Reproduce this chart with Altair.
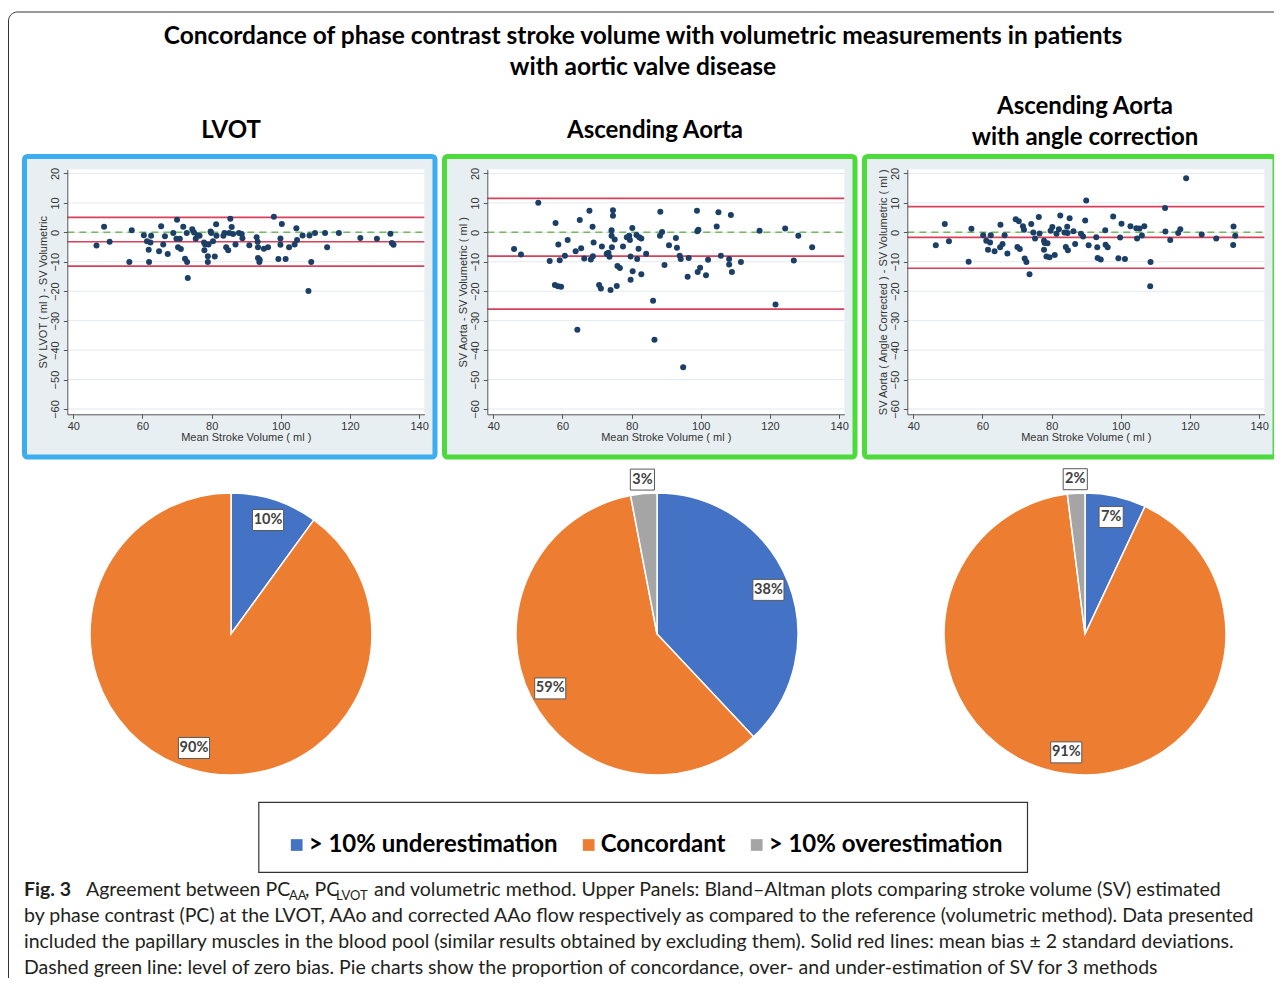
import altair as alt
import numpy as np
import pandas as pd

# ---------------- data ----------------
LVOT_MEAN = [46.7, 48.9, 50.5, 56.2, 56.9, 60.4, 61.3, 61.8, 61.9, 62.3,
             62.5, 64.8, 65.4, 66.0, 66.5, 67.3, 68.9, 70.0, 69.8, 70.3,
             70.8, 71.1, 71.8, 72.3, 72.8, 72.9, 73.1, 74.4, 74.9, 75.4,
             76.0, 76.5, 77.8, 77.9, 78.1, 78.9, 78.9, 79.1, 79.7, 79.9,
             80.4, 80.9, 81.3, 81.4, 83.4, 83.7, 84.2, 84.8, 85.1, 85.4,
             85.8, 86.2, 86.9, 87.9, 88.7, 88.9, 90.9, 93.0, 93.3, 93.4,
             93.4, 93.8, 93.9, 95.1, 96.3, 98.0, 99.3, 99.9, 99.9, 100.3,
             101.4, 102.4, 104.0, 104.5, 104.7, 106.3, 108.0, 108.3, 108.8, 109.9,
             112.8, 113.4, 116.8, 123.0, 127.8, 131.7, 132.1, 132.6]
LVOT_DIFF = [-4.5, 1.9, -3.2, -10.1, 0.7, -1.0, -3.0, -5.9, -10.1, -3.5,
             -1.2, -6.4, 2.1, -4.1, -1.3, -7.4, -0.2, 4.3, -2.2, -5.1,
             -2.2, -5.7, 1.9, -9.0, -0.2, -10.1, -15.5, 1.0, -0.1, -2.2,
             -1.0, -1.2, -3.5, -6.1, -4.1, -8.1, -10.1, -4.1, 0.3, -0.2,
             -3.0, -8.2, 2.7, -1.2, -1.2, -0.2, -5.1, -6.1, -0.2, 4.6,
             1.8, -0.6, -4.1, -0.2, -0.6, -2.0, -4.4, -1.7, -3.2, -5.1,
             -8.7, -10.1, -9.3, -5.6, -5.1, 5.3, -9.1, -2.1, -4.2, 2.8,
             -9.1, -5.1, -4.1, 1.4, -2.6, -1.1, -19.9, -1.1, -10.1, -0.2,
             -0.2, -5.1, -0.2, -1.9, -2.2, -0.5, -3.6, -4.2]
LVOT_LINES = [5.1, -3.2, -11.5]

AAO_MEAN = [46.0, 48.0, 53.0, 56.3, 58.0, 57.8, 58.8, 58.7, 59.2, 59.6,
            60.7, 61.5, 63.8, 64.3, 65.0, 65.4, 66.3, 67.8, 68.2, 68.7,
            68.8, 69.0, 70.6, 71.1, 71.4, 72.8, 73.3, 73.6, 73.9, 74.2,
            74.2, 74.3, 74.6, 74.6, 75.1, 75.7, 75.9, 76.6, 77.5, 78.6,
            79.3, 79.5, 79.7, 79.7, 80.2, 80.3, 81.4, 81.6, 82.0, 82.2,
            82.8, 82.8, 84.2, 86.2, 86.6, 88.2, 88.3, 88.8, 89.5, 90.8,
            92.8, 93.1, 93.9, 94.2, 94.9, 96.2, 96.5, 98.9, 99.0, 99.3,
            99.1, 99.8, 101.5, 102.1, 104.6, 105.1, 105.8, 108.2, 108.2, 108.7,
            109.0, 111.6, 117.0, 121.6, 124.4, 126.9, 128.2, 132.2]
AAO_DIFF = [-5.7, -7.5, 10.0, -9.7, 3.2, -17.9, -4.1, -18.3, -9.5, -18.5,
            -8.0, -2.6, -6.4, -33.1, 4.2, -5.4, -8.9, 7.3, -9.2, 1.9,
            -8.1, -3.5, -17.9, -19.1, -4.8, -7.3, -6.9, -8.3, -19.6, 0.7,
            -1.2, -5.1, 7.5, 5.6, -2.4, -18.2, -11.4, -12.1, -4.8, -1.7,
            -1.2, -2.6, -8.2, -16.1, 1.5, -13.2, -0.9, -9.1, -5.6, -1.7,
            -2.1, -14.2, -7.3, -23.2, -36.5, -1.2, 7.0, 0.1, -11.1, -4.4,
            -1.9, -5.2, -8.0, -9.1, -45.8, -15.1, -8.7, 7.3, 0.4, 0.9,
            -13.5, -12.0, -14.6, -9.3, 2.0, 6.8, -8.0, -9.1, -10.9, 5.9,
            -13.5, -10.1, 0.5, -24.5, 1.3, -9.6, -1.2, -5.1]
AAO_LINES = [11.5, -8.1, -26.1]

AAC_MEAN = [46.5, 49.1, 50.3, 56.0, 56.8, 60.2, 61.1, 61.6, 62.2, 62.4,
            63.5, 65.2, 65.1, 65.8, 66.4, 67.2, 69.6, 70.1, 70.5, 70.8,
            71.7, 72.0, 72.2, 72.7, 73.6, 74.1, 74.7, 75.2, 76.3, 76.5,
            77.8, 77.8, 78.0, 78.8, 78.5, 79.4, 79.7, 80.2, 80.9, 81.4,
            82.1, 82.5, 83.7, 84.1, 84.5, 84.7, 84.6, 85.2, 86.3, 86.8,
            88.5, 89.1, 89.7, 90.0, 90.7, 92.9, 93.2, 93.3, 94.2, 95.5,
            95.6, 96.2, 97.8, 99.3, 99.8, 100.2, 101.2, 102.8, 104.5, 104.7,
            105.4, 106.1, 106.8, 108.5, 108.6, 112.8, 112.9, 114.3, 116.6, 117.2,
            118.9, 123.4, 127.6, 132.5, 132.6, 133.1]
AAC_DIFF = [-4.4, 2.8, -3.0, -10.0, 1.2, -1.0, -2.9, -5.9, -3.5, -1.0,
            -6.4, 2.6, -5.1, -4.0, -1.0, -7.2, 4.4, -5.0, 3.8, -5.7,
            2.1, 0.9, -8.9, -10.1, -14.2, 2.8, -0.1, -2.1, 5.2, -0.4,
            -2.9, -5.9, -3.6, -3.7, -8.2, -8.5, 0.5, 1.8, -7.7, -0.5,
            1.0, 5.7, -0.1, -5.0, 1.9, -6.1, -0.2, 4.8, 0.4, -4.0,
            -0.5, -1.4, 4.0, 10.8, -4.4, -1.7, -5.1, -8.7, -9.2, 0.7,
            -4.2, -5.1, 5.4, -8.8, -1.8, 2.9, -9.1, 2.1, 1.4, -2.1,
            1.3, -1.1, 2.1, -18.3, -10.1, 8.3, 0.3, -2.6, -0.2, 1.0,
            18.4, -0.7, -2.1, -4.3, 2.0, -1.2]
AAC_LINES = [8.7, -1.7, -12.2]

X_TICKS = [40, 60, 80, 100, 120, 140]
Y_TICKS = [-60, -50, -40, -30, -20, -10, 0, 10, 20]

CATEGORIES = ["> 10% underestimation", "Concordant", "> 10% overestimation"]
PIE_LVOT = [10, 90, 0]
PIE_AAO = [38, 59, 3]
PIE_AAC = [7, 91, 2]
COLORS = ["#4472c4", "#ed7d31", "#a5a5a5"]

TITLE_LINES = ["Concordance of phase contrast stroke volume with volumetric measurements in patients",
               "with aortic valve disease"]
PANEL_TITLES = [["LVOT"], ["Ascending Aorta"], ["Ascending Aorta", "with angle correction"]]
Y_TITLES = ["SV LVOT ( ml ) - SV Volumetric",
            "SV Aorta - SV Volumetric ( ml )",
            "SV Aorta ( Angle Corrected ) - SV Volumetric ( ml )"]
X_TITLE = "Mean Stroke Volume ( ml )"
CAPTION_1 = ["Fig. 3", "Agreement between PC", "AA", ", PC", "LVOT",
             "and volumetric method. Upper Panels: Bland\u2013Altman plots comparing stroke volume (SV) estimated"]
CAPTION_REST = [
    "by phase contrast (PC) at the LVOT, AAo and corrected AAo flow respectively as compared to the reference (volumetric method). Data presented",
    "included the papillary muscles in the blood pool (similar results obtained by excluding them). Solid red lines: mean bias \u00b1 2 standard deviations.",
    "Dashed green line: level of zero bias. Pie charts show the proportion of concordance, over- and under-estimation of SV for 3 methods",
]

# ---------------- layout ----------------
W, H = 1266, 970
FONT = "Lato"
AXFONT = "Liberation Sans"
ONE = alt.Data(values=[{"k": 1}])
XD = [38.26, 141.5]
YD = [-61.8, 21.4]
PX0, PX1, PY_TOP, PY_BOT = 59.3, 416.3, 161.3, 406.3


def deco_text(txt, x, y, size, weight="normal", align="center", font=FONT,
              color="#000000", baseline="middle"):
    return alt.Chart(ONE).mark_text(
        text=txt, font=font, fontSize=size, fontWeight=weight, align=align,
        baseline=baseline, color=color
    ).encode(x=alt.value(x), y=alt.value(y))


def scatter(means, diffs, lines, ytitle, k, border):
    dx = 420 * k
    xs = alt.Scale(domain=XD, range=[PX0 + dx, PX1 + dx], nice=False, zero=False)
    ys = alt.Scale(domain=YD, range=[PY_BOT, PY_TOP], nice=False, zero=False)
    common = dict(grid=False, zindex=2, domainColor="#555555", tickColor="#555555",
                  tickSize=4, labelFont=AXFONT, labelFontSize=11, labelColor="#333333",
                  titleFont=AXFONT, titleFontSize=11, titleFontWeight="normal",
                  titleColor="#333333", labelFlush=False)
    xaxis = alt.Axis(orient="bottom", offset=PY_BOT - H, values=X_TICKS, title=X_TITLE,
                     labelPadding=2, titlePadding=0, **common)
    yaxis = alt.Axis(orient="left", offset=-(PX0 + dx), values=Y_TICKS, title=ytitle,
                     labelAngle=270, labelAlign="center", labelBaseline="bottom",
                     labelPadding=3, titlePadding=1, **common)
    panel = alt.Chart(ONE).mark_rect(
        fill="#e8eff2", stroke=border, strokeWidth=5, cornerRadius=3
    ).encode(x=alt.value(16.5 + dx), x2=alt.value(427 + dx),
             y=alt.value(148.5), y2=alt.value(449))
    plotbg = alt.Chart(ONE).mark_rect(fill="white").encode(
        x=alt.X(datum=XD[0], scale=xs, axis=xaxis), x2=alt.X2(datum=XD[1]),
        y=alt.Y(datum=YD[0], scale=ys, axis=yaxis), y2=alt.Y2(datum=YD[1]))
    grid = alt.Chart(pd.DataFrame({"v": Y_TICKS})).mark_rule(
        color="#e2e9ed", strokeWidth=1
    ).encode(y=alt.Y("v:Q", scale=ys, axis=yaxis),
             x=alt.X(datum=XD[0], scale=xs, axis=xaxis), x2=alt.X2(datum=XD[1]))
    zero = alt.Chart(ONE).mark_rule(
        color="#74b860", strokeWidth=1.6, strokeDash=[7, 5]
    ).encode(y=alt.Y(datum=0, scale=ys, axis=yaxis),
             x=alt.X(datum=XD[0], scale=xs, axis=xaxis), x2=alt.X2(datum=XD[1]))
    red = alt.Chart(pd.DataFrame({"v": lines})).mark_rule(
        color="#d8405c", strokeWidth=1.7
    ).encode(y=alt.Y("v:Q", scale=ys, axis=yaxis),
             x=alt.X(datum=XD[0], scale=xs, axis=xaxis), x2=alt.X2(datum=XD[1]))
    pts = alt.Chart(pd.DataFrame({"m": means, "d": diffs})).mark_circle(
        size=36, color="#1b3f66", opacity=1
    ).encode(x=alt.X("m:Q", scale=xs, axis=xaxis), y=alt.Y("d:Q", scale=ys, axis=yaxis))
    return alt.layer(panel, plotbg, grid, zero, red, pts)


LEGEND = alt.Legend(orient="none", legendX=276.7, legendY=825, direction="horizontal",
                    title=None, symbolType="square", symbolSize=137, symbolStrokeWidth=0,
                    labelFont=FONT, labelFontSize=24, labelFontWeight="bold",
                    labelColor="#000000", labelOffset=0, columnPadding=19, padding=0,
                    labelLimit=500)


def pie(values, cx, cy, R=141):
    vals = np.array(values, dtype=float)
    frac = vals / vals.sum()
    mid = 2 * np.pi * (np.cumsum(frac) - frac / 2)
    rr = np.where(frac > 0.05, 0.85, 1.1)
    df = pd.DataFrame({"category": CATEGORIES, "value": values, "idx": [0, 1, 2],
                       "lx": rr * np.sin(mid), "ly": rr * np.cos(mid),
                       "label": [f"{v}%" for v in values]})
    df = df[df["value"] > 0]
    xs = alt.Scale(domain=[-1, 1], range=[cx - R, cx + R], nice=False, zero=False)
    ys = alt.Scale(domain=[-1, 1], range=[cy + R, cy - R], nice=False, zero=False)
    base = alt.Chart(df)
    arc = base.mark_arc(outerRadius=R, stroke="white", strokeWidth=1.5).encode(
        theta=alt.Theta("value:Q", stack=True),
        color=alt.Color("category:N", scale=alt.Scale(domain=CATEGORIES, range=COLORS),
                        legend=LEGEND),
        order=alt.Order("idx:Q"),
        x=alt.X(datum=0, scale=xs, axis=None),
        y=alt.Y(datum=0, scale=ys, axis=None))
    boxes = base.transform_calculate(
        box="length(datum.label) > 2 ? 'M-1.48,-1H1.48V1H-1.48Z' : 'M-1.15,-1H1.15V1H-1.15Z'"
    ).mark_point(filled=True, fill="white", stroke="#5a5a5a", strokeWidth=1,
                 size=441, opacity=1).encode(
        x=alt.X("lx:Q", scale=xs, axis=None),
        y=alt.Y("ly:Q", scale=ys, axis=None),
        shape=alt.Shape("box:N", scale=None, legend=None))
    labels = base.mark_text(font=FONT, fontWeight="bold", fontSize=14.5,
                            color="#404040", baseline="middle").encode(
        x=alt.X("lx:Q", scale=xs, axis=None),
        y=alt.Y("ly:Q", scale=ys, axis=None),
        text="label:N")
    return alt.layer(arc, boxes, labels)


border = alt.Chart(ONE).mark_rect(
    fill="white", fillOpacity=0, stroke="#333333", strokeWidth=1, cornerRadius=9
).encode(x=alt.value(0.5), x2=alt.value(1300), y=alt.value(4), y2=alt.value(1010))

s1 = scatter(LVOT_MEAN, LVOT_DIFF, LVOT_LINES, Y_TITLES[0], 0, "#3cadef")
s2 = scatter(AAO_MEAN, AAO_DIFF, AAO_LINES, Y_TITLES[1], 1, "#4ddb3b")
s3 = scatter(AAC_MEAN, AAC_DIFF, AAC_LINES, Y_TITLES[2], 2, "#4ddb3b")

p1 = pie(PIE_LVOT, 223, 626)
p2 = pie(PIE_AAO, 649, 626)
p3 = pie(PIE_AAC, 1077, 626)

legbox = alt.Chart(ONE).mark_rect(
    fill="white", fillOpacity=0, stroke="#333333", strokeWidth=1.2
).encode(x=alt.value(250.8), x2=alt.value(1019.5), y=alt.value(794.3), y2=alt.value(864.3))

texts = [
    deco_text(TITLE_LINES[0], 635, 29, 24.5, "bold"),
    deco_text(TITLE_LINES[1], 635, 60, 24.5, "bold"),
    deco_text(PANEL_TITLES[0][0], 223, 123, 24, "bold"),
    deco_text(PANEL_TITLES[1][0], 647, 123, 24, "bold"),
    deco_text(PANEL_TITLES[2][0], 1077, 99, 24, "bold"),
    deco_text(PANEL_TITLES[2][1], 1077, 130, 24, "bold"),
]

CAP_COLOR = "#231f20"
CAP_SIZE = 19.5
CAP_Y = [882, 908, 934, 959.5]
cap_x = [16, 78, 281, 297, 328, 366]
texts.append(deco_text(CAPTION_1[0], cap_x[0], CAP_Y[0], CAP_SIZE, "bold", "left", color=CAP_COLOR))
texts.append(deco_text(CAPTION_1[1], cap_x[1], CAP_Y[0], CAP_SIZE, "normal", "left", color=CAP_COLOR))
texts.append(deco_text(CAPTION_1[2], cap_x[2], CAP_Y[0] + 6, 13, "normal", "left", color=CAP_COLOR))
texts.append(deco_text(CAPTION_1[3], cap_x[3], CAP_Y[0], CAP_SIZE, "normal", "left", color=CAP_COLOR))
texts.append(deco_text(CAPTION_1[4], cap_x[4], CAP_Y[0] + 6, 13, "normal", "left", color=CAP_COLOR))
texts.append(deco_text(CAPTION_1[5], cap_x[5], CAP_Y[0], CAP_SIZE, "normal", "left", color=CAP_COLOR))
for i, line in enumerate(CAPTION_REST):
    texts.append(deco_text(line, 16, CAP_Y[i + 1], CAP_SIZE, "normal", "left", color=CAP_COLOR))

chart = alt.layer(border, s1, s2, s3, p1, p2, p3, legbox, *texts).resolve_scale(
    x="independent", y="independent"
).properties(
    width=W, height=H, autosize=alt.AutoSizeParams(type="none"), padding=0,
    background="white"
).configure_view(strokeWidth=0)

chart.save("out.html", embed_options={"renderer": "svg", "actions": False})
